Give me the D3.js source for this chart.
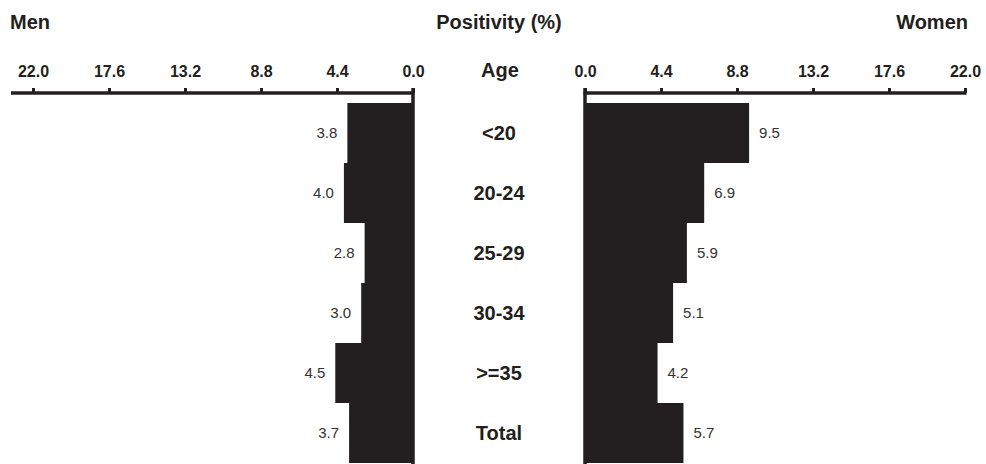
<!DOCTYPE html>
<html>
<head>
<meta charset="utf-8">
<script src="https://cdn.jsdelivr.net/npm/d3@7/dist/d3.min.js"></script>
<style>
  html, body { margin: 0; padding: 0; background: #fff; }
  svg { display: block; }
  text { font-family: "Liberation Sans", Arial, Helvetica, sans-serif; }
</style>
</head>
<body>
<svg id="chart" width="986" height="464"></svg>
<script>
const categories = ["<20", "20-24", "25-29", "30-34", ">=35", "Total"];
const menValues = [3.8, 4.0, 2.8, 3.0, 4.5, 3.7];
const womenValues = [9.5, 6.9, 5.9, 5.1, 4.2, 5.7];
const tickValues = [0, 4.4, 8.8, 13.2, 17.6, 22.0];
const titleLeft = "Men";
const titleCenter = "Positivity (%)";
const titleRight = "Women";
const centerHeader = "Age";

const ink = "#231f20";
const svg = d3.select("#chart");

const axisY = 93;
const xLeft = d3.scaleLinear().domain([0, 22]).range([413, 33]);
const xRight = d3.scaleLinear().domain([0, 22]).range([585, 965]);
const y = d3.scaleBand().domain(categories).range([103, 463]).padding(0);

// Titles
svg.append("text").attr("x", 10).attr("y", 29).attr("font-size", 20).attr("font-weight", "bold")
  .attr("fill", ink).text(titleLeft);
svg.append("text").attr("x", 499).attr("y", 29).attr("font-size", 20).attr("font-weight", "bold")
  .attr("text-anchor", "middle").attr("fill", ink).text(titleCenter);
svg.append("text").attr("x", 968).attr("y", 29).attr("font-size", 20).attr("font-weight", "bold")
  .attr("text-anchor", "end").attr("fill", ink).text(titleRight);
svg.append("text").attr("x", 500).attr("y", 77).attr("font-size", 20).attr("font-weight", "bold")
  .attr("text-anchor", "middle").attr("fill", ink).text(centerHeader);

// Bars
const rows = categories.map((c, i) => ({ c, m: menValues[i], w: womenValues[i] }));

svg.append("g").selectAll("rect").data(rows).join("rect")
  .attr("x", d => xLeft(d.m)).attr("y", d => y(d.c))
  .attr("width", d => xLeft(0) - xLeft(d.m)).attr("height", y.bandwidth())
  .attr("fill", ink);

svg.append("g").selectAll("rect").data(rows).join("rect")
  .attr("x", xRight(0)).attr("y", d => y(d.c))
  .attr("width", d => xRight(d.w) - xRight(0)).attr("height", y.bandwidth())
  .attr("fill", ink);

// Value labels
svg.append("g").selectAll("text").data(rows).join("text")
  .attr("x", d => xLeft(d.m) - 10).attr("y", d => y(d.c) + y.bandwidth() / 2)
  .attr("dy", "0.35em").attr("text-anchor", "end").attr("font-size", 15)
  .attr("fill", "#333").text(d => d.m.toFixed(1));

svg.append("g").selectAll("text").data(rows).join("text")
  .attr("x", d => xRight(d.w) + 10).attr("y", d => y(d.c) + y.bandwidth() / 2)
  .attr("dy", "0.35em").attr("text-anchor", "start").attr("font-size", 15)
  .attr("fill", "#333").text(d => d.w.toFixed(1));

// Category labels
svg.append("g").selectAll("text").data(categories).join("text")
  .attr("x", 499).attr("y", d => y(d) + y.bandwidth() / 2)
  .attr("dy", "0.36em").attr("text-anchor", "middle").attr("font-size", 20)
  .attr("font-weight", "bold").attr("fill", ink).text(d => d);

// Axes
function drawAxis(scale, lineX0, lineX1) {
  const g = svg.append("g").attr("transform", `translate(0,${axisY})`);
  g.call(d3.axisTop(scale).tickValues(tickValues).tickSize(5).tickSizeOuter(0)
    .tickPadding(11).tickFormat(d3.format(".1f")));
  g.select(".domain").remove();
  g.selectAll(".tick line").attr("stroke", ink).attr("stroke-width", 3);
  g.selectAll(".tick text").attr("font-size", 16).attr("font-weight", "bold")
    .attr("fill", ink).attr("font-family", "'Liberation Sans', Arial, sans-serif");
  g.append("line").attr("x1", lineX0).attr("x2", lineX1).attr("y1", 0).attr("y2", 0)
    .attr("stroke", ink).attr("stroke-width", 3.5);
}
drawAxis(xLeft, 11, xLeft(0) + 1.5);
drawAxis(xRight, xRight(0) - 1.5, xRight(22) + 1.5);

// Zero lines
svg.append("line").attr("x1", xLeft(0)).attr("x2", xLeft(0)).attr("y1", axisY - 5).attr("y2", 464)
  .attr("stroke", ink).attr("stroke-width", 3.5);
svg.append("line").attr("x1", xRight(0)).attr("x2", xRight(0)).attr("y1", axisY - 5).attr("y2", 464)
  .attr("stroke", ink).attr("stroke-width", 3.5);
</script>
</body>
</html>
